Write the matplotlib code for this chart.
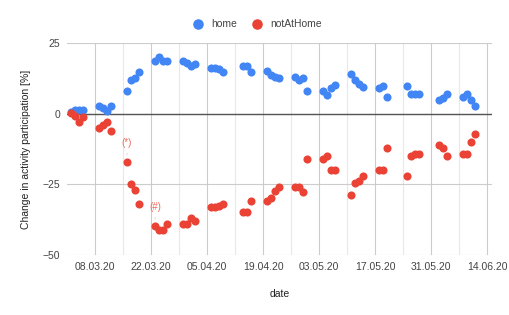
import datetime as dt

import matplotlib

matplotlib.use("Agg")
import matplotlib.dates as mdates
import matplotlib.pyplot as plt

plt.rcParams["font.family"] = ["Liberation Sans", "DejaVu Sans"]

START = dt.date(2020, 3, 1)

# days after 01.03.2020 (Mon-Thu of each week, holidays missing)
day_offsets = [
    1, 2, 3, 4,
    8, 9, 10, 11,
    15, 16, 17, 18,
    22, 23, 24, 25,
    29, 30, 31, 32,
    36, 37, 38, 39,
    44, 45, 46,
    50, 51, 52, 53,
    57, 58, 59, 60,
    64, 65, 66, 67,
    71, 72, 73, 74,
    78, 79, 80,
    85, 86, 87, 88,
    93, 94, 95,
    99, 100, 101, 102,
]

home = [
    0.6, 1.2, 1.2, 1.2,
    2.8, 2.0, 0.8, 2.8,
    7.9, 11.8, 12.6, 14.7,
    18.8, 20.0, 18.8, 18.8,
    18.8, 18.1, 16.7, 17.7,
    16.1, 16.0, 15.8, 14.8,
    17.0, 16.7, 14.8,
    15.0, 13.8, 13.0, 12.6,
    13.0, 11.8, 12.6, 7.9,
    7.9, 6.7, 9.1, 10.2,
    14.0, 12.0, 10.6, 9.6,
    9.1, 9.9, 5.9,
    9.9, 7.1, 7.1, 7.1,
    4.7, 5.5, 7.1,
    5.9, 7.1, 4.9, 2.8,
]

not_at_home = [
    0.2, -1.0, -2.9, -1.3,
    -5.1, -4.1, -2.9, -6.0,
    -17.1, -24.8, -26.9, -31.8,
    -39.8, -41.0, -41.0, -38.9,
    -38.9, -38.9, -36.9, -37.8,
    -33.0, -33.0, -32.5, -31.8,
    -34.9, -34.9, -31.0,
    -31.0, -30.0, -27.5, -26.0,
    -25.9, -25.9, -27.8, -16.0,
    -16.0, -15.1, -20.0, -20.0,
    -28.9, -24.7, -23.9, -21.9,
    -20.0, -20.0, -12.1,
    -21.9, -15.1, -14.1, -14.1,
    -11.0, -12.1, -15.1,
    -14.1, -14.1, -10.1, -7.1,
]

# (label, index into not_at_home)
notes = [("(*)", 8), ("(#)", 12)]

y_ticks = [25, 0, -25, -50]

BLUE = "#4285f4"
RED = "#ea4335"
TEXT = "#444444"


def main() -> None:
    dates = [START + dt.timedelta(days=d) for d in day_offsets]

    fig = plt.figure(figsize=(5.09, 3.15), dpi=100)
    ax = fig.add_axes([0.1316, 0.1905, 0.835, 0.673])

    ax.scatter(dates, home, s=34, color=BLUE, zorder=3, linewidths=0, label="home")
    ax.scatter(dates, not_at_home, s=34, color=RED, zorder=3, linewidths=0, label="notAtHome")

    for text, idx in notes:
        ax.annotate(
            text,
            xy=(dates[idx], not_at_home[idx] + 1.5),
            xytext=(dates[idx], not_at_home[idx] + 5.0),
            ha="center",
            va="bottom",
            fontsize=7,
            color="#ee6a5c",
            arrowprops=dict(arrowstyle="-", color="#dddddd", lw=0.8),
            zorder=2,
        )

    ax.set_xlim(mdates.date2num(START), mdates.date2num(START) + 106.2)
    ax.set_ylim(-50, 25)
    ax.set_yticks(y_ticks)
    ax.axhline(0, color="#555555", lw=1.0, zorder=2)

    major = [mdates.date2num(START + dt.timedelta(days=7 + 14 * k)) for k in range(8)]
    minor = [mdates.date2num(START + dt.timedelta(days=14 + 14 * k)) for k in range(7)]
    ax.set_xticks(major)
    ax.set_xticks(minor, minor=True)
    ax.xaxis.set_major_formatter(mdates.DateFormatter("%d.%m.%y"))

    ax.grid(True, which="major", axis="x", color="#cccccc", lw=0.8)
    ax.grid(True, which="minor", axis="x", color="#e8e8e8", lw=0.8)
    ax.grid(True, which="major", axis="y", color="#cccccc", lw=0.8)
    ax.set_axisbelow(True)

    for spine in ax.spines.values():
        spine.set_visible(False)
    ax.tick_params(which="both", length=0, labelsize=7.5, labelcolor=TEXT, pad=5)

    ax.set_xlabel("date", fontsize=7.5, color="#222222", labelpad=12)
    ax.set_ylabel("Change in activity participation [%]", fontsize=7.5,
                  color="#222222", labelpad=8)

    fig.legend(
        loc="upper center",
        bbox_to_anchor=(0.5, 0.97),
        ncol=2,
        frameon=False,
        fontsize=7.5,
        handletextpad=0.3,
        columnspacing=0.9,
        markerscale=1.3,
        labelcolor=TEXT,
    )

    fig.savefig("out.png", dpi=100)
    plt.close(fig)


if __name__ == "__main__":
    main()
